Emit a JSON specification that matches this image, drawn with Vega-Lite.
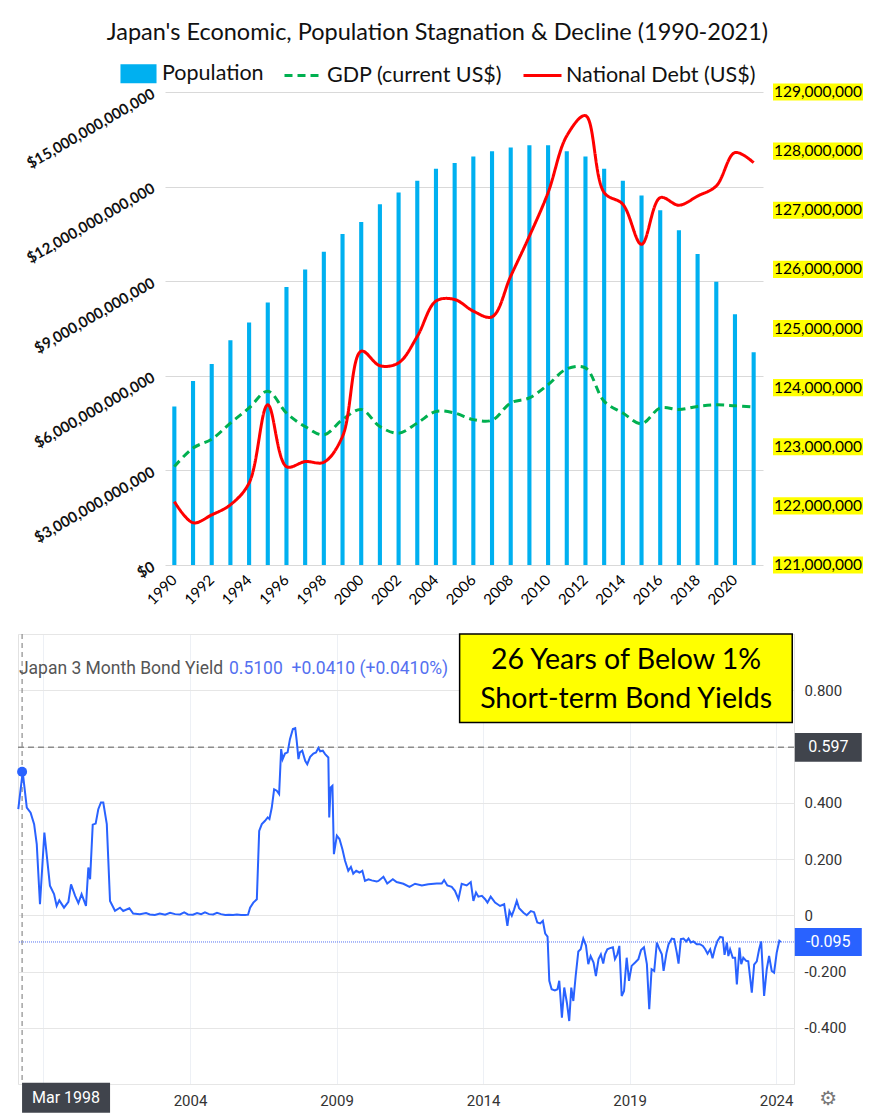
{
  "$schema": "https://vega.github.io/schema/vega-lite/v6.json",
  "background": "white",
  "padding": {"left": 13, "top": 20, "right": 0, "bottom": 0},
  "config": {"view": {"stroke": null}, "font": "Lato"},
  "title": {"text": "Japan's Economic, Population Stagnation & Decline (1990-2021)", "font": "Lato", "fontSize": 23.5, "fontWeight": "normal", "color": "#111111", "anchor": "middle", "offset": 9, "dx": -6},
  "datasets": {
    "pop": [
      {"year": 1990, "population": 123680000}, {"year": 1991, "population": 124110000}, {"year": 1992, "population": 124400000}, {"year": 1993, "population": 124800000},
      {"year": 1994, "population": 125100000}, {"year": 1995, "population": 125440000}, {"year": 1996, "population": 125700000}, {"year": 1997, "population": 126000000},
      {"year": 1998, "population": 126300000}, {"year": 1999, "population": 126600000}, {"year": 2000, "population": 126800000}, {"year": 2001, "population": 127100000},
      {"year": 2002, "population": 127300000}, {"year": 2003, "population": 127500000}, {"year": 2004, "population": 127700000}, {"year": 2005, "population": 127800000},
      {"year": 2006, "population": 127910000}, {"year": 2007, "population": 128000000}, {"year": 2008, "population": 128060000}, {"year": 2009, "population": 128100000},
      {"year": 2010, "population": 128100000}, {"year": 2011, "population": 128000000}, {"year": 2012, "population": 127910000}, {"year": 2013, "population": 127700000},
      {"year": 2014, "population": 127500000}, {"year": 2015, "population": 127250000}, {"year": 2016, "population": 127000000}, {"year": 2017, "population": 126660000},
      {"year": 2018, "population": 126260000}, {"year": 2019, "population": 125790000}, {"year": 2020, "population": 125240000}, {"year": 2021, "population": 124600000}
    ],
    "lines": [
      {"year": 1990, "series": "GDP (current US$)", "usd": 3.12e12}, {"year": 1991, "series": "GDP (current US$)", "usd": 3.71e12},
      {"year": 1992, "series": "GDP (current US$)", "usd": 3.99e12}, {"year": 1993, "series": "GDP (current US$)", "usd": 4.50e12},
      {"year": 1994, "series": "GDP (current US$)", "usd": 4.98e12}, {"year": 1995, "series": "GDP (current US$)", "usd": 5.51e12},
      {"year": 1996, "series": "GDP (current US$)", "usd": 4.82e12}, {"year": 1997, "series": "GDP (current US$)", "usd": 4.39e12},
      {"year": 1998, "series": "GDP (current US$)", "usd": 4.13e12}, {"year": 1999, "series": "GDP (current US$)", "usd": 4.61e12},
      {"year": 2000, "series": "GDP (current US$)", "usd": 4.93e12}, {"year": 2001, "series": "GDP (current US$)", "usd": 4.39e12},
      {"year": 2002, "series": "GDP (current US$)", "usd": 4.18e12}, {"year": 2003, "series": "GDP (current US$)", "usd": 4.50e12},
      {"year": 2004, "series": "GDP (current US$)", "usd": 4.87e12}, {"year": 2005, "series": "GDP (current US$)", "usd": 4.82e12},
      {"year": 2006, "series": "GDP (current US$)", "usd": 4.61e12}, {"year": 2007, "series": "GDP (current US$)", "usd": 4.59e12},
      {"year": 2008, "series": "GDP (current US$)", "usd": 5.14e12}, {"year": 2009, "series": "GDP (current US$)", "usd": 5.30e12},
      {"year": 2010, "series": "GDP (current US$)", "usd": 5.72e12}, {"year": 2011, "series": "GDP (current US$)", "usd": 6.22e12},
      {"year": 2012, "series": "GDP (current US$)", "usd": 6.25e12}, {"year": 2013, "series": "GDP (current US$)", "usd": 5.19e12},
      {"year": 2014, "series": "GDP (current US$)", "usd": 4.82e12}, {"year": 2015, "series": "GDP (current US$)", "usd": 4.48e12},
      {"year": 2016, "series": "GDP (current US$)", "usd": 4.98e12}, {"year": 2017, "series": "GDP (current US$)", "usd": 4.93e12},
      {"year": 2018, "series": "GDP (current US$)", "usd": 5.03e12}, {"year": 2019, "series": "GDP (current US$)", "usd": 5.08e12},
      {"year": 2020, "series": "GDP (current US$)", "usd": 5.05e12}, {"year": 2021, "series": "GDP (current US$)", "usd": 5.01e12},
      {"year": 1990, "series": "National Debt (US$)", "usd": 2.01e12}, {"year": 1991, "series": "National Debt (US$)", "usd": 1.34e12},
      {"year": 1992, "series": "National Debt (US$)", "usd": 1.59e12}, {"year": 1993, "series": "National Debt (US$)", "usd": 1.91e12},
      {"year": 1994, "series": "National Debt (US$)", "usd": 2.60e12}, {"year": 1995, "series": "National Debt (US$)", "usd": 5.08e12},
      {"year": 1996, "series": "National Debt (US$)", "usd": 3.12e12}, {"year": 1997, "series": "National Debt (US$)", "usd": 3.28e12},
      {"year": 1998, "series": "National Debt (US$)", "usd": 3.26e12}, {"year": 1999, "series": "National Debt (US$)", "usd": 4.08e12},
      {"year": 2000, "series": "National Debt (US$)", "usd": 6.78e12}, {"year": 2001, "series": "National Debt (US$)", "usd": 6.32e12},
      {"year": 2002, "series": "National Debt (US$)", "usd": 6.41e12}, {"year": 2003, "series": "National Debt (US$)", "usd": 7.25e12},
      {"year": 2004, "series": "National Debt (US$)", "usd": 8.37e12}, {"year": 2005, "series": "National Debt (US$)", "usd": 8.42e12},
      {"year": 2006, "series": "National Debt (US$)", "usd": 8.05e12}, {"year": 2007, "series": "National Debt (US$)", "usd": 7.87e12},
      {"year": 2008, "series": "National Debt (US$)", "usd": 9.16e12}, {"year": 2009, "series": "National Debt (US$)", "usd": 10.43e12},
      {"year": 2010, "series": "National Debt (US$)", "usd": 11.81e12}, {"year": 2011, "series": "National Debt (US$)", "usd": 13.61e12},
      {"year": 2012, "series": "National Debt (US$)", "usd": 14.25e12}, {"year": 2013, "series": "National Debt (US$)", "usd": 11.81e12},
      {"year": 2014, "series": "National Debt (US$)", "usd": 11.44e12}, {"year": 2015, "series": "National Debt (US$)", "usd": 10.17e12},
      {"year": 2016, "series": "National Debt (US$)", "usd": 11.65e12}, {"year": 2017, "series": "National Debt (US$)", "usd": 11.41e12},
      {"year": 2018, "series": "National Debt (US$)", "usd": 11.70e12}, {"year": 2019, "series": "National Debt (US$)", "usd": 12.02e12},
      {"year": 2020, "series": "National Debt (US$)", "usd": 13.08e12}, {"year": 2021, "series": "National Debt (US$)", "usd": 12.76e12}
    ],
    "ticks": [
      {"value": 121000000}, {"value": 122000000}, {"value": 123000000}, {"value": 124000000}, {"value": 125000000},
      {"value": 126000000}, {"value": 127000000}, {"value": 128000000}, {"value": 129000000}
    ],
    "bond": [
      {"t": 1998.14, "yield": 0.377}, {"t": 1998.29, "yield": 0.51}, {"t": 1998.43, "yield": 0.383}, {"t": 1998.56, "yield": 0.365}, {"t": 1998.68, "yield": 0.324},
      {"t": 1998.77, "yield": 0.253}, {"t": 1998.88, "yield": 0.039}, {"t": 1999.03, "yield": 0.294}, {"t": 1999.22, "yield": 0.105}, {"t": 1999.36, "yield": 0.075},
      {"t": 1999.45, "yield": 0.033}, {"t": 1999.54, "yield": 0.053}, {"t": 1999.70, "yield": 0.027}, {"t": 1999.85, "yield": 0.048}, {"t": 1999.94, "yield": 0.110},
      {"t": 2000.08, "yield": 0.069}, {"t": 2000.19, "yield": 0.043}, {"t": 2000.30, "yield": 0.075}, {"t": 2000.45, "yield": 0.033}, {"t": 2000.53, "yield": 0.170},
      {"t": 2000.59, "yield": 0.128}, {"t": 2000.68, "yield": 0.322}, {"t": 2000.78, "yield": 0.326}, {"t": 2000.87, "yield": 0.377}, {"t": 2000.96, "yield": 0.401},
      {"t": 2001.04, "yield": 0.401}, {"t": 2001.16, "yield": 0.324}, {"t": 2001.27, "yield": 0.051}, {"t": 2001.44, "yield": 0.016}, {"t": 2001.61, "yield": 0.027},
      {"t": 2001.72, "yield": 0.015}, {"t": 2001.93, "yield": 0.025}, {"t": 2002.06, "yield": 0.006}, {"t": 2002.29, "yield": 0.004}, {"t": 2002.50, "yield": 0.008},
      {"t": 2002.63, "yield": 0.003}, {"t": 2002.80, "yield": 0.001}, {"t": 2002.97, "yield": 0.006}, {"t": 2003.15, "yield": 0.002}, {"t": 2003.32, "yield": 0.009},
      {"t": 2003.49, "yield": 0.004}, {"t": 2003.66, "yield": 0.003}, {"t": 2003.80, "yield": 0.010}, {"t": 2003.93, "yield": 0.003}, {"t": 2004.10, "yield": 0.002},
      {"t": 2004.24, "yield": 0.008}, {"t": 2004.38, "yield": 0.004}, {"t": 2004.51, "yield": 0.010}, {"t": 2004.65, "yield": 0.004}, {"t": 2004.79, "yield": 0.003},
      {"t": 2004.92, "yield": 0.009}, {"t": 2005.06, "yield": 0.004}, {"t": 2005.20, "yield": 0.001}, {"t": 2005.33, "yield": 0.002}, {"t": 2005.47, "yield": 0.001},
      {"t": 2005.60, "yield": 0.003}, {"t": 2005.74, "yield": 0.001}, {"t": 2005.88, "yield": 0.001}, {"t": 2005.98, "yield": 0.002}, {"t": 2006.05, "yield": 0.027},
      {"t": 2006.16, "yield": 0.045}, {"t": 2006.28, "yield": 0.057}, {"t": 2006.36, "yield": 0.300}, {"t": 2006.45, "yield": 0.324}, {"t": 2006.56, "yield": 0.336},
      {"t": 2006.65, "yield": 0.348}, {"t": 2006.71, "yield": 0.342}, {"t": 2006.79, "yield": 0.383}, {"t": 2006.87, "yield": 0.448}, {"t": 2006.96, "yield": 0.443},
      {"t": 2007.04, "yield": 0.431}, {"t": 2007.11, "yield": 0.591}, {"t": 2007.16, "yield": 0.555}, {"t": 2007.24, "yield": 0.575}, {"t": 2007.33, "yield": 0.579},
      {"t": 2007.41, "yield": 0.626}, {"t": 2007.51, "yield": 0.662}, {"t": 2007.59, "yield": 0.665}, {"t": 2007.64, "yield": 0.621}, {"t": 2007.70, "yield": 0.555},
      {"t": 2007.75, "yield": 0.579}, {"t": 2007.83, "yield": 0.585}, {"t": 2007.93, "yield": 0.549}, {"t": 2008.00, "yield": 0.537}, {"t": 2008.10, "yield": 0.563},
      {"t": 2008.21, "yield": 0.575}, {"t": 2008.30, "yield": 0.579}, {"t": 2008.38, "yield": 0.595}, {"t": 2008.44, "yield": 0.583}, {"t": 2008.53, "yield": 0.585},
      {"t": 2008.61, "yield": 0.573}, {"t": 2008.72, "yield": 0.561}, {"t": 2008.75, "yield": 0.348}, {"t": 2008.80, "yield": 0.454}, {"t": 2008.86, "yield": 0.460},
      {"t": 2008.91, "yield": 0.217}, {"t": 2009.01, "yield": 0.283}, {"t": 2009.10, "yield": 0.271}, {"t": 2009.20, "yield": 0.235}, {"t": 2009.29, "yield": 0.194},
      {"t": 2009.40, "yield": 0.158}, {"t": 2009.49, "yield": 0.172}, {"t": 2009.57, "yield": 0.148}, {"t": 2009.67, "yield": 0.158}, {"t": 2009.78, "yield": 0.152},
      {"t": 2009.88, "yield": 0.158}, {"t": 2009.97, "yield": 0.122}, {"t": 2010.09, "yield": 0.128}, {"t": 2010.20, "yield": 0.124}, {"t": 2010.37, "yield": 0.120},
      {"t": 2010.43, "yield": 0.122}, {"t": 2010.60, "yield": 0.137}, {"t": 2010.73, "yield": 0.113}, {"t": 2010.92, "yield": 0.128}, {"t": 2011.05, "yield": 0.118},
      {"t": 2011.28, "yield": 0.112}, {"t": 2011.49, "yield": 0.101}, {"t": 2011.68, "yield": 0.112}, {"t": 2011.91, "yield": 0.106}, {"t": 2012.13, "yield": 0.110},
      {"t": 2012.42, "yield": 0.113}, {"t": 2012.59, "yield": 0.113}, {"t": 2012.67, "yield": 0.125}, {"t": 2012.78, "yield": 0.106}, {"t": 2012.93, "yield": 0.101},
      {"t": 2013.04, "yield": 0.087}, {"t": 2013.16, "yield": 0.057}, {"t": 2013.27, "yield": 0.112}, {"t": 2013.44, "yield": 0.106}, {"t": 2013.58, "yield": 0.118},
      {"t": 2013.67, "yield": 0.051}, {"t": 2013.76, "yield": 0.081}, {"t": 2013.84, "yield": 0.066}, {"t": 2013.96, "yield": 0.069}, {"t": 2014.07, "yield": 0.057},
      {"t": 2014.15, "yield": 0.045}, {"t": 2014.26, "yield": 0.066}, {"t": 2014.41, "yield": 0.045}, {"t": 2014.58, "yield": 0.033}, {"t": 2014.72, "yield": 0.039},
      {"t": 2014.83, "yield": -0.038}, {"t": 2014.90, "yield": 0.015}, {"t": 2014.98, "yield": -0.002}, {"t": 2015.06, "yield": 0.021}, {"t": 2015.15, "yield": 0.051},
      {"t": 2015.23, "yield": 0.025}, {"t": 2015.38, "yield": 0.009}, {"t": 2015.49, "yield": 0.000}, {"t": 2015.63, "yield": 0.015}, {"t": 2015.74, "yield": 0.011},
      {"t": 2015.85, "yield": -0.026}, {"t": 2015.95, "yield": -0.029}, {"t": 2016.04, "yield": -0.020}, {"t": 2016.12, "yield": -0.065}, {"t": 2016.20, "yield": -0.076},
      {"t": 2016.26, "yield": -0.233}, {"t": 2016.34, "yield": -0.263}, {"t": 2016.45, "yield": -0.267}, {"t": 2016.54, "yield": -0.263}, {"t": 2016.60, "yield": -0.233},
      {"t": 2016.69, "yield": -0.364}, {"t": 2016.77, "yield": -0.257}, {"t": 2016.86, "yield": -0.311}, {"t": 2016.94, "yield": -0.376}, {"t": 2017.01, "yield": -0.257},
      {"t": 2017.08, "yield": -0.305}, {"t": 2017.16, "yield": -0.216}, {"t": 2017.25, "yield": -0.129}, {"t": 2017.33, "yield": -0.121}, {"t": 2017.42, "yield": -0.083},
      {"t": 2017.51, "yield": -0.107}, {"t": 2017.59, "yield": -0.174}, {"t": 2017.67, "yield": -0.145}, {"t": 2017.77, "yield": -0.168}, {"t": 2017.85, "yield": -0.216},
      {"t": 2017.94, "yield": -0.156}, {"t": 2018.02, "yield": -0.139}, {"t": 2018.10, "yield": -0.172}, {"t": 2018.16, "yield": -0.139}, {"t": 2018.24, "yield": -0.121},
      {"t": 2018.33, "yield": -0.117}, {"t": 2018.43, "yield": -0.114}, {"t": 2018.50, "yield": -0.156}, {"t": 2018.58, "yield": -0.139}, {"t": 2018.65, "yield": -0.109},
      {"t": 2018.73, "yield": -0.287}, {"t": 2018.81, "yield": -0.269}, {"t": 2018.90, "yield": -0.151}, {"t": 2018.98, "yield": -0.233}, {"t": 2019.07, "yield": -0.180},
      {"t": 2019.19, "yield": -0.168}, {"t": 2019.30, "yield": -0.156}, {"t": 2019.39, "yield": -0.124}, {"t": 2019.49, "yield": -0.114}, {"t": 2019.59, "yield": -0.174},
      {"t": 2019.67, "yield": -0.334}, {"t": 2019.75, "yield": -0.192}, {"t": 2019.84, "yield": -0.198}, {"t": 2019.93, "yield": -0.097}, {"t": 2020.02, "yield": -0.121},
      {"t": 2020.10, "yield": -0.139}, {"t": 2020.16, "yield": -0.198}, {"t": 2020.26, "yield": -0.133}, {"t": 2020.33, "yield": -0.103}, {"t": 2020.44, "yield": -0.083},
      {"t": 2020.52, "yield": -0.085}, {"t": 2020.61, "yield": -0.133}, {"t": 2020.67, "yield": -0.172}, {"t": 2020.75, "yield": -0.085}, {"t": 2020.84, "yield": -0.083},
      {"t": 2020.93, "yield": -0.093}, {"t": 2021.01, "yield": -0.083}, {"t": 2021.09, "yield": -0.097}, {"t": 2021.18, "yield": -0.093}, {"t": 2021.29, "yield": -0.103},
      {"t": 2021.40, "yield": -0.103}, {"t": 2021.50, "yield": -0.109}, {"t": 2021.58, "yield": -0.121}, {"t": 2021.66, "yield": -0.137}, {"t": 2021.75, "yield": -0.121},
      {"t": 2021.83, "yield": -0.153}, {"t": 2021.92, "yield": -0.115}, {"t": 2022.00, "yield": -0.091}, {"t": 2022.09, "yield": -0.077}, {"t": 2022.18, "yield": -0.079},
      {"t": 2022.24, "yield": -0.141}, {"t": 2022.32, "yield": -0.097}, {"t": 2022.37, "yield": -0.145}, {"t": 2022.43, "yield": -0.121}, {"t": 2022.52, "yield": -0.151},
      {"t": 2022.60, "yield": -0.151}, {"t": 2022.66, "yield": -0.246}, {"t": 2022.75, "yield": -0.115}, {"t": 2022.81, "yield": -0.174}, {"t": 2022.88, "yield": -0.151},
      {"t": 2022.98, "yield": -0.162}, {"t": 2023.05, "yield": -0.164}, {"t": 2023.17, "yield": -0.275}, {"t": 2023.25, "yield": -0.176}, {"t": 2023.34, "yield": -0.164},
      {"t": 2023.42, "yield": -0.121}, {"t": 2023.49, "yield": -0.093}, {"t": 2023.59, "yield": -0.287}, {"t": 2023.68, "yield": -0.192}, {"t": 2023.76, "yield": -0.145},
      {"t": 2023.85, "yield": -0.198}, {"t": 2023.93, "yield": -0.204}, {"t": 2024.02, "yield": -0.133}, {"t": 2024.11, "yield": -0.091}, {"t": 2024.16, "yield": -0.095}
    ]
  },
  "spacing": 24,
  "vconcat": [
    {
      "spacing": 0,
      "hconcat": [
        {
          "width": 6,
          "height": 473,
          "data": {"values": [{}]},
          "mark": {"type": "point", "opacity": 0, "size": 0, "strokeWidth": 0},
          "encoding": {}
        },
        {
          "width": 598,
          "height": 473,
          "layer": [
            {
              "data": {"name": "pop"},
              "mark": {"type": "bar", "width": {"band": 0.22}},
              "encoding": {
                "x": {
                  "field": "year", "type": "ordinal",
                  "scale": {"type": "band", "paddingInner": 0, "paddingOuter": 0},
                  "axis": {"title": null, "values": [1990, 1992, 1994, 1996, 1998, 2000, 2002, 2004, 2006, 2008, 2010, 2012, 2014, 2016, 2018, 2020],
                           "labelAngle": -45, "labelAlign": "right", "labelBaseline": "middle", "labelFont": "Lato", "labelFontSize": 15,
                           "labelColor": "#000000", "labelPadding": 12, "domain": false, "ticks": false, "grid": false}
                },
                "y": {"field": "population", "type": "quantitative", "scale": {"domain": [121000000, 129000000], "nice": false, "zero": false}, "axis": null},
                "y2": {"datum": 121000000},
                "color": {
                  "datum": "Population", "type": "nominal", "title": null,
                  "scale": {"domain": ["Population", "GDP (current US$)", "National Debt (US$)"], "range": ["#00B0F0", "#00B050", "#FF0000"]},
                  "legend": {
                    "orient": "none", "legendX": 100, "legendY": -39, "direction": "horizontal", "columns": 3, "title": null,
                    "labelFont": "Lato", "labelFontSize": 21.5, "labelColor": "#111111", "labelLimit": 400, "labelOffset": 3,
                    "columnPadding": 14, "symbolType": "stroke", "symbolSize": 1444, "symbolStrokeWidth": 3,
                    "encode": {
                      "symbols": {
                        "update": {
                          "shape": {"signal": "datum.value === 'Population' ? 'M-0.87,-0.42H0.87V0.42H-0.87Z' : 'stroke'"},
                          "fill": {"signal": "datum.value === 'Population' ? '#00B0F0' : 'transparent'"},
                          "stroke": {"signal": "datum.value === 'Population' ? 'transparent' : (datum.value === 'GDP (current US$)' ? '#00B050' : '#FF0000')"},
                          "strokeDash": {"signal": "datum.value === 'GDP (current US$)' ? [8, 5] : [100, 0]"},
                          "strokeWidth": {"value": 3},
                          "opacity": {"value": 1}
                        }
                      }
                    }
                  }
                }
              }
            },
            {
              "data": {"name": "lines"},
              "mark": {"type": "line", "interpolate": "catmull-rom", "strokeWidth": 3},
              "encoding": {
                "x": {"field": "year", "type": "ordinal"},
                "y": {
                  "field": "usd", "type": "quantitative",
                  "scale": {"domain": [0, 15000000000000], "nice": false},
                  "axis": {"orient": "left", "title": null, "values": [0, 3000000000000, 6000000000000, 9000000000000, 12000000000000, 15000000000000],
                           "labelExpr": "'$' + format(datum.value, ',.0f')", "labelAngle": -30, "labelAlign": "right", "labelBaseline": "middle",
                           "labelFont": "Lato", "labelFontSize": 15, "labelFontWeight": "bold", "labelColor": "#111111", "labelPadding": 12,
                           "domain": false, "ticks": false, "grid": true, "gridColor": "#D9D9D9", "gridWidth": 1}
                },
                "color": {"field": "series", "type": "nominal", "title": null},
                "strokeDash": {"field": "series", "type": "nominal", "scale": {"domain": ["GDP (current US$)", "National Debt (US$)"], "range": [[8, 5], [1, 0]]}, "legend": null}
              }
            }
          ],
          "resolve": {"scale": {"y": "independent"}}
        },
        {
          "width": 110,
          "height": 473,
          "data": {"name": "ticks"},
          "layer": [
            {
              "mark": {"type": "point", "shape": "M-1,-0.19H1V0.19H-1Z", "filled": true, "color": "#FFFF00", "opacity": 1, "size": 8100, "strokeWidth": 0},
              "encoding": {"y": {"field": "value", "type": "quantitative", "scale": {"domain": [121000000, 129000000], "nice": false, "zero": false}, "axis": null}}
            },
            {
              "mark": {"type": "text", "font": "Lato", "fontSize": 15.5, "color": "#000000", "align": "center", "baseline": "middle"},
              "encoding": {
                "y": {"field": "value", "type": "quantitative"},
                "text": {"field": "value", "type": "quantitative", "format": ","}
              }
            }
          ]
        }
      ]
    },
    {
      "width": 776,
      "height": 450,
      "view": {"stroke": "#E2E2E2"},
      "layer": [
        {
          "data": {"values": [{"t": 1998.27}]},
          "mark": {"type": "rule", "color": "#8C8C8C", "strokeDash": [5, 4], "strokeWidth": 1.2},
          "encoding": {
            "x": {"field": "t", "type": "quantitative", "scale": {"domain": [1998.13, 2024.61], "nice": false, "zero": false},
                  "axis": {"title": null, "values": [1999, 2004, 2009, 2014, 2019, 2024], "format": "d", "labelExpr": "datum.value == 1999 ? '' : datum.label",
                           "grid": true, "gridColor": "#EDF0F5", "domain": false, "ticks": false, "labelFont": "Roboto", "labelFontSize": 15,
                           "labelColor": "#333333", "labelPadding": 9}}
          }
        },
        {
          "data": {"values": [{"v": 0.597}]},
          "mark": {"type": "rule", "color": "#8C8C8C", "strokeDash": [6, 4], "strokeWidth": 1.5},
          "encoding": {
            "y": {"field": "v", "type": "quantitative", "scale": {"domain": [-0.6, 1.0], "nice": false, "zero": false},
                  "axis": {"orient": "right", "title": null, "values": [-0.6, -0.4, -0.2, 0, 0.2, 0.4, 0.6, 0.8, 1.0],
                           "labelExpr": "abs(datum.value) < 0.001 ? '0' : ((abs(abs(datum.value) - 0.6) < 0.01 || datum.value > 0.95) ? '' : (datum.value < 0 ? '-' : '') + format(abs(datum.value), '.3f'))",
                           "grid": true, "gridColor": "#E6E6E6", "domain": false, "ticks": false, "labelFont": "Roboto", "labelFontSize": 15,
                           "labelColor": "#333333", "labelPadding": 10}}
          }
        },
        {
          "data": {"values": [{"v": -0.095}]},
          "mark": {"type": "rule", "color": "#5573F2", "strokeDash": [1, 1], "strokeWidth": 1},
          "encoding": {"y": {"field": "v", "type": "quantitative"}}
        },
        {
          "data": {"values": [{"t1": 2013.2, "t2": 2024.55, "v1": 1.0, "v2": 0.685}]},
          "mark": {"type": "rect", "fill": "#FFFF00", "stroke": "#000000", "strokeWidth": 1.5},
          "encoding": {
            "x": {"field": "t1", "type": "quantitative"}, "x2": {"field": "t2"},
            "y": {"field": "v1", "type": "quantitative"}, "y2": {"field": "v2"}
          }
        },
        {
          "data": {"name": "bond"},
          "mark": {"type": "line", "color": "#2962FF", "strokeWidth": 2},
          "encoding": {"x": {"field": "t", "type": "quantitative"}, "y": {"field": "yield", "type": "quantitative"}}
        },
        {
          "data": {"values": [{"t": 1998.27, "v": 0.51}]},
          "mark": {"type": "point", "filled": true, "color": "#2962FF", "opacity": 1, "size": 100},
          "encoding": {"x": {"field": "t", "type": "quantitative"}, "y": {"field": "v", "type": "quantitative"}}
        },
        {
          "data": {"values": [{"t": 2018.88, "v": 0.906, "line": "26 Years of Below 1%"}, {"t": 2018.88, "v": 0.768, "line": "Short-term Bond Yields"}]},
          "mark": {"type": "text", "font": "Lato", "fontSize": 28.5, "color": "#000000", "align": "center", "baseline": "middle"},
          "encoding": {"x": {"field": "t", "type": "quantitative"}, "y": {"field": "v", "type": "quantitative"}, "text": {"field": "line"}}
        },
        {
          "data": {"values": [{"t": 1998.16, "v": 0.874, "label": "Japan 3 Month Bond Yield"}]},
          "mark": {"type": "text", "font": "Roboto", "fontSize": 17.5, "color": "#555555", "align": "left", "baseline": "middle"},
          "encoding": {"x": {"field": "t", "type": "quantitative"}, "y": {"field": "v", "type": "quantitative"}, "text": {"field": "label"}}
        },
        {
          "data": {"values": [{"t": 2005.33, "v": 0.874, "label": "0.5100\u00a0 +0.0410 (+0.0410%)"}]},
          "mark": {"type": "text", "font": "Roboto", "fontSize": 17.5, "color": "#5470F0", "align": "left", "baseline": "middle"},
          "encoding": {"x": {"field": "t", "type": "quantitative"}, "y": {"field": "v", "type": "quantitative"}, "text": {"field": "label"}}
        },
        {
          "data": {"values": [{"t": 2025.78, "v": 0.597}]},
          "mark": {"type": "point", "shape": "M-1,-0.43H1V0.43H-1Z", "filled": true, "color": "#40444C", "opacity": 1, "size": 4489, "strokeWidth": 0},
          "encoding": {"x": {"field": "t", "type": "quantitative"}, "y": {"field": "v", "type": "quantitative"}}
        },
        {
          "data": {"values": [{"t": 2025.78, "v": -0.095}]},
          "mark": {"type": "point", "shape": "M-1,-0.42H1V0.42H-1Z", "filled": true, "color": "#2962FF", "opacity": 1, "size": 4489, "strokeWidth": 0},
          "encoding": {"x": {"field": "t", "type": "quantitative"}, "y": {"field": "v", "type": "quantitative"}}
        },
        {
          "data": {"values": [{"t": 1999.77, "v": -0.649}]},
          "mark": {"type": "point", "shape": "M-1,-0.34H1V0.34H-1Z", "filled": true, "color": "#40444C", "opacity": 1, "size": 7744, "strokeWidth": 0},
          "encoding": {"x": {"field": "t", "type": "quantitative"}, "y": {"field": "v", "type": "quantitative"}}
        },
        {
          "data": {"values": [{"t": 2025.78, "v": 0.597, "label": "0.597"}, {"t": 2025.78, "v": -0.095, "label": "-0.095"}, {"t": 1999.77, "v": -0.649, "label": "Mar 1998"}]},
          "mark": {"type": "text", "font": "Roboto", "fontSize": 16, "color": "#FFFFFF", "align": "center", "baseline": "middle"},
          "encoding": {"x": {"field": "t", "type": "quantitative"}, "y": {"field": "v", "type": "quantitative"}, "text": {"field": "label"}}
        },
        {
          "data": {"values": [{"t": 2025.78, "v": -0.655, "label": "⚙"}]},
          "mark": {"type": "text", "font": "DejaVu Sans", "fontSize": 20, "color": "#777777", "align": "center", "baseline": "middle"},
          "encoding": {"x": {"field": "t", "type": "quantitative"}, "y": {"field": "v", "type": "quantitative"}, "text": {"field": "label"}}
        }
      ]
    }
  ]
}
